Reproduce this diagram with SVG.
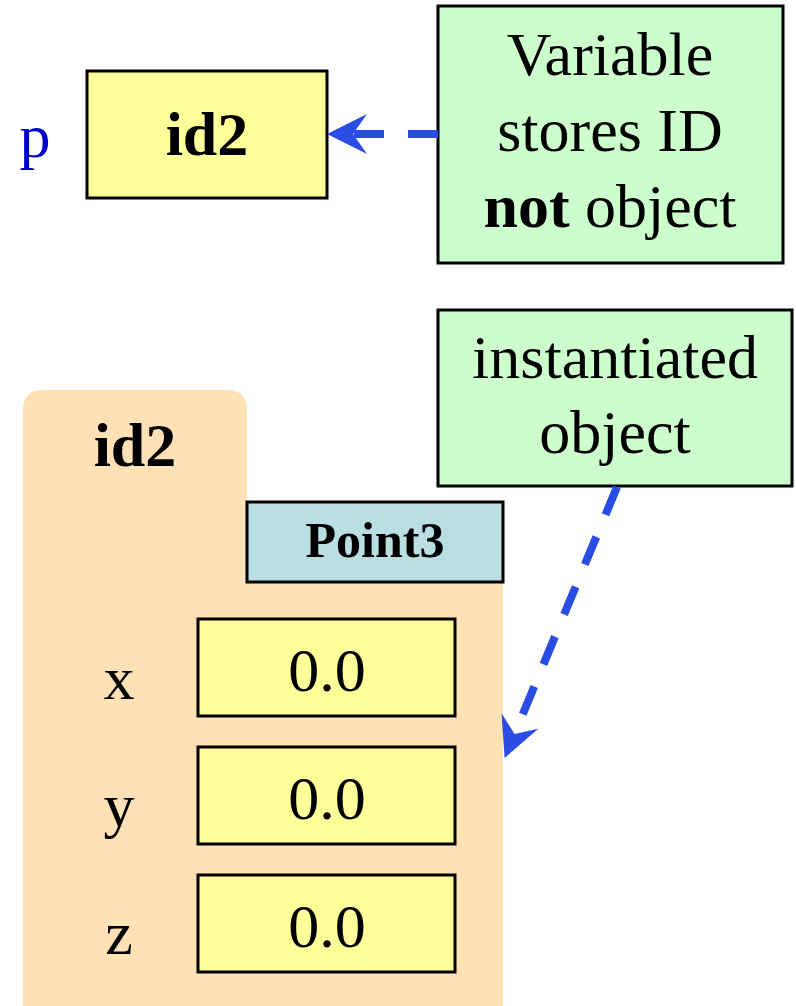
<svg xmlns="http://www.w3.org/2000/svg" width="796" height="1006" viewBox="0 0 796 1006">
  <style>
    .box { stroke: #000; stroke-width: 3; }
    .val { fill: #ffff99; }
    .note { fill: #ccffcc; }
    .cls { fill: #b9dfe3; }
    .t { font-family: "Liberation Serif", "Times New Roman", serif; font-size: 62px; fill: #000; text-anchor: middle; }
    .b { font-weight: bold; }
    .var { fill: #0000cc; }
    .link { fill: none; stroke: #2a4de6; stroke-width: 8; stroke-dasharray: 30 24; }
  </style>
  <defs>
    <marker id="head" markerUnits="userSpaceOnUse" markerWidth="40" markerHeight="40" viewBox="0 0 40 40" refX="14" refY="20" orient="auto">
      <path d="M0,0 L40,20 L0,40 L14,20 Z" fill="#2a4de6"/>
    </marker>
  </defs>

  <!-- variable p holding a reference -->
  <g id="var-p">
    <text class="t var" x="35" y="157">p</text>
    <rect class="box val" x="87" y="71" width="240" height="127"/>
    <text class="t b" x="207" y="155">id2</text>
  </g>

  <!-- note: variable stores ID -->
  <g id="note-id">
    <rect class="box note" x="438" y="6" width="345" height="257"/>
    <text class="t" x="610" y="75">Variable</text>
    <text class="t" x="610" y="151">stores ID</text>
    <text class="t" x="610" y="227"><tspan class="b">not</tspan> object</text>
  </g>

  <!-- note: instantiated object -->
  <g id="note-obj">
    <rect class="box note" x="438" y="310" width="354" height="176"/>
    <text class="t" x="615" y="378">instantiated</text>
    <text class="t" x="615" y="453">object</text>
  </g>

  <!-- heap object id2 -->
  <g id="obj-id2">
    <path d="M23,410 Q23,390 43,390 L227,390 Q247,390 247,410 L247,502 L503,502 L503,1006 L23,1006 Z" fill="#ffe1b6"/>
    <text class="t b" x="135" y="466">id2</text>
    <rect class="box cls" x="247" y="502" width="256" height="80"/>
    <text class="t b" x="375" y="557" style="font-size:50px">Point3</text>
  </g>

  <g id="field-x">
    <text class="t" x="119" y="699">x</text>
    <rect class="box val" x="198" y="619" width="257" height="97"/>
    <text class="t" x="327" y="691">0.0</text>
  </g>
  <g id="field-y">
    <text class="t" x="119" y="826">y</text>
    <rect class="box val" x="198" y="747" width="257" height="97"/>
    <text class="t" x="327" y="819">0.0</text>
  </g>
  <g id="field-z">
    <text class="t" x="119" y="954">z</text>
    <rect class="box val" x="198" y="875" width="257" height="97"/>
    <text class="t" x="327" y="947">0.0</text>
  </g>

  <!-- connectors -->
  <g id="connectors">
    <path class="link" d="M438,134 L353,134" marker-end="url(#head)"/>
    <path class="link" d="M617,487 L514.6,733.9" marker-end="url(#head)"/>
  </g>
</svg>
